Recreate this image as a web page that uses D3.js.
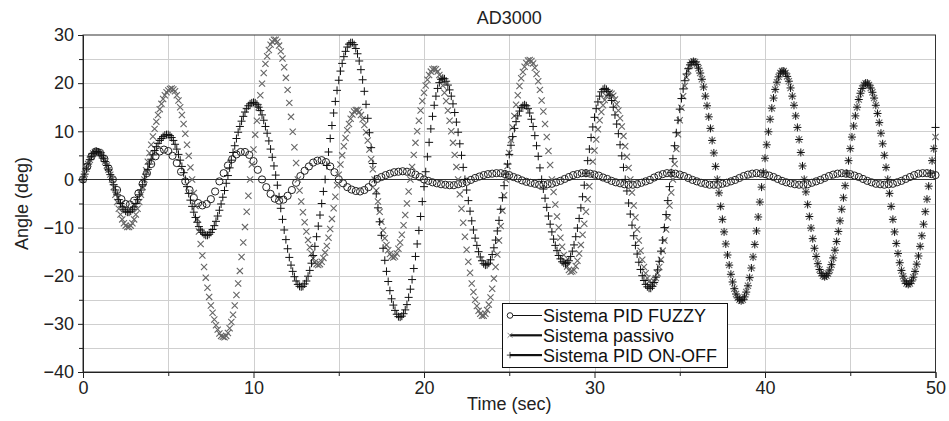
<!DOCTYPE html>
<html>
<head>
<meta charset="utf-8">
<script src="https://cdn.jsdelivr.net/npm/d3@7"></script>
<style>
  body { margin: 0; background: #fff; }
  svg { display: block; font-family: "Liberation Sans", Arial, sans-serif; }
</style>
</head>
<body>
<svg id="chart"></svg>
<script>
const title = "AD3000";
const xLabel = "Time (sec)";
const yLabel = "Angle (deg)";
const xTicks = [0, 10, 20, 30, 40, 50];
const yTicks = [-40, -30, -20, -10, 0, 10, 20, 30];
const seriesNames = ["Sistema PID FUZZY", "Sistema passivo", "Sistema PID ON-OFF"];

// sampling step (sec) of each recorded series
const fuzzyStep = 0.25;
const passiveStep = 0.1;
const onoffStep = 0.1;

// Sistema PID FUZZY, one row per second
const fuzzy = [
  0, 2.7, 4.8, 5.8,
  5.5, 4.3, 2.3, 0,
  -2.2, -4.1, -5.1, -5.2,
  -4.4, -2.9, -0.9, 1.3,
  3.2, 4.8, 5.8, 6.2,
  5.9, 4.9, 3.4, 1.6,
  -0.4, -2.2, -3.8, -4.9,
  -5.4, -5.1, -4.1, -2.5,
  -0.4, 1.3, 2.9, 4.2,
  5.2, 5.7, 5.7, 5.1,
  3.8, 2.0, 0, -1.6,
  -3.0, -4.0, -4.4, -4.2,
  -3.4, -2.2, -0.7, 0.7,
  1.8, 2.7, 3.5, 3.9,
  4.0, 3.6, 2.7, 1.5,
  0, -0.8, -1.6, -2.1,
  -2.4, -2.5, -2.2, -1.6,
  -0.7, 0.1, 0.5, 0.9,
  1.2, 1.5, 1.6, 1.7,
  1.6, 1.4, 1.0, 0.5,
  0, -0.3, -0.6, -0.8,
  -1.0, -1.1, -1.2, -1.2,
  -1.0, -0.8, -0.5, -0.1,
  0.3, 0.6, 0.9, 1.1,
  1.2, 1.3, 1.3, 1.1,
  0.9, 0.5, 0.2, -0.2,
  -0.5, -0.7, -0.9, -1.1,
  -1.1, -1.0, -0.9, -0.6,
  -0.3, 0.1, 0.5, 0.9,
  1.1, 1.3, 1.3, 1.2,
  1.0, 0.8, 0.4, 0.1,
  -0.3, -0.6, -0.8, -1.0,
  -1.1, -1.1, -1.0, -0.7,
  -0.4, -0.1, 0.4, 0.8,
  1.1, 1.3, 1.3, 1.2,
  1.0, 0.7, 0.3, -0.1,
  -0.4, -0.7, -0.9, -1.1,
  -1.1, -1.1, -0.9, -0.7,
  -0.4, -0.1, 0.3, 0.7,
  1.0, 1.2, 1.3, 1.2,
  1.1, 0.8, 0.5, 0.1,
  -0.3, -0.6, -0.8, -1.0,
  -1.1, -1.1, -1.0, -0.7,
  -0.4, -0.1, 0.3, 0.7,
  1.0, 1.2, 1.3, 1.2,
  1.1, 0.8, 0.5, 0.1,
  -0.3, -0.6, -0.9, -1.0,
  -1.1, -1.0, -0.9, -0.6,
  -0.3, 0.1, 0.5, 0.9,
  1.2, 1.3, 1.3, 1.1,
  0.9
];

// Sistema passivo, one row per second
const passive = [
  0, 1.1, 2.2, 3.2, 4.1, 4.8, 5.4, 5.7, 5.8, 5.7,
  5.5, 5.0, 4.4, 3.7, 2.9, 2.0, 1.0, 0, -1.6, -3.2,
  -4.7, -6.1, -7.3, -8.3, -9.1, -9.6, -9.9, -9.9, -9.6, -9.1,
  -8.3, -7.3, -6.1, -4.7, -3.2, -1.6, 0, 1.9, 3.7, 5.5,
  7.2, 8.9, 10.5, 12.0, 13.4, 14.6, 15.7, 16.7, 17.5, 18.1,
  18.5, 18.8, 18.9, 18.7, 18.3, 17.5, 16.4, 15.0, 13.4, 11.5,
  9.5, 7.2, 4.9, 2.5, 0, -2.8, -5.5, -8.2, -10.8, -13.4,
  -15.8, -18.2, -20.4, -22.5, -24.4, -26.2, -27.7, -29.1, -30.3, -31.2,
  -32.0, -32.5, -32.7, -32.8, -32.5, -31.9, -30.9, -29.6, -28.1, -26.2,
  -24.0, -21.6, -19.0, -16.1, -13.1, -9.9, -6.7, -3.4, 0, 3.1,
  6.2, 9.3, 12.2, 15.0, 17.5, 19.9, 22.1, 24.0, 25.6, 26.9,
  28.0, 28.6, 29.0, 29.0, 28.6, 27.8, 26.6, 25.1, 23.3, 21.1,
  18.6, 15.9, 13.0, 9.9, 6.7, 3.4, 0, -2.3, -4.6, -6.8,
  -8.9, -10.8, -12.6, -14.1, -15.4, -16.4, -17.2, -17.6, -17.8, -17.6,
  -17.1, -16.3, -15.2, -13.8, -12.1, -10.3, -8.2, -6.0, -3.6, -1.2,
  1.0, 3.1, 5.0, 6.9, 8.6, 10.2, 11.5, 12.6, 13.5, 14.1,
  14.4, 14.4, 14.0, 13.4, 12.5, 11.3, 9.8, 8.1, 6.2, 4.2,
  2.1, 0, -2.3, -4.6, -6.7, -8.8, -10.6, -12.2, -13.6, -14.7,
  -15.5, -16.0, -16.2, -16.0, -15.4, -14.4, -13.1, -11.5, -9.5, -7.4,
  -5.0, -2.5, 0, 2.6, 5.1, 7.6, 10.0, 12.2, 14.3, 16.3,
  18.0, 19.5, 20.7, 21.7, 22.4, 22.9, 23.0, 22.9, 22.4, 21.7,
  20.7, 19.5, 18.0, 16.3, 14.3, 12.2, 10.0, 7.6, 5.1, 2.6,
  0, -3.1, -6.1, -9.0, -11.9, -14.6, -17.1, -19.4, -21.6, -23.4,
  -25.0, -26.3, -27.3, -27.9, -28.3, -28.3, -27.9, -27.1, -26.0, -24.5,
  -22.7, -20.6, -18.2, -15.6, -12.7, -9.7, -6.5, -3.3, 0, 2.8,
  5.5, 8.2, 10.8, 13.2, 15.5, 17.5, 19.4, 21.0, 22.3, 23.4,
  24.2, 24.7, 24.8, 24.6, 24.1, 23.2, 21.9, 20.4, 18.6, 16.4,
  14.1, 11.5, 8.8, 5.9, 3.0, 0, -2.6, -5.2, -7.7, -10.0,
  -12.1, -14.0, -15.7, -17.0, -18.1, -18.8, -19.2, -19.1, -18.8, -18.0,
  -16.9, -15.4, -13.6, -11.5, -9.2, -6.7, -4.1, -1.4, 1.2, 3.7,
  6.0, 8.3, 10.4, 12.3, 14.0, 15.4, 16.5, 17.3, 17.8, 18.0,
  17.8, 17.4, 16.6, 15.6, 14.3, 12.7, 11.0, 9.0, 6.9, 4.7,
  2.4, 0, -2.7, -5.4, -7.9, -10.4, -12.7, -14.8, -16.7, -18.2,
  -19.5, -20.5, -21.2, -21.6, -21.6, -21.2, -20.5, -19.5, -18.2, -16.7,
  -14.8, -12.7, -10.4, -7.9, -5.4, -2.7, 0, 3.2, 6.3, 9.4,
  12.3, 14.9, 17.3, 19.4, 21.2, 22.6, 23.7, 24.3, 24.5, 24.4,
  23.9, 23.1, 22.1, 20.8, 19.2, 17.3, 15.3, 13.0, 10.6, 8.1,
  5.5, 2.7, 0, -2.8, -5.6, -8.3, -10.9, -13.4, -15.7, -17.8,
  -19.7, -21.3, -22.7, -23.8, -24.6, -25.0, -25.2, -25.0, -24.4, -23.4,
  -22.1, -20.4, -18.4, -16.1, -13.5, -10.7, -7.8, -4.7, -1.6, 1.5,
  4.4, 7.2, 9.9, 12.5, 14.8, 16.9, 18.7, 20.2, 21.3, 22.1,
  22.5, 22.5, 22.1, 21.4, 20.4, 19.0, 17.3, 15.4, 13.2, 10.8,
  8.3, 5.6, 2.8, 0, -2.6, -5.2, -7.7, -10.1, -12.3, -14.3,
  -16.0, -17.5, -18.7, -19.5, -20.0, -20.2, -20.0, -19.6, -18.8, -17.7,
  -16.3, -14.7, -12.9, -10.8, -8.6, -6.2, -3.8, -1.3, 1.3, 3.9,
  6.4, 8.8, 11.1, 13.2, 15.0, 16.6, 17.9, 18.9, 19.6, 20.0,
  20.0, 19.6, 19.0, 18.1, 16.9, 15.4, 13.7, 11.8, 9.6, 7.4,
  5.0, 2.5, 0, -2.9, -5.6, -8.3, -10.9, -13.3, -15.4, -17.3,
  -18.9, -20.1, -21.1, -21.6, -21.8, -21.6, -21.1, -20.3, -19.1, -17.6,
  -15.9, -13.9, -11.7, -9.3, -6.7, -4.1, -1.4, 1.3, 3.9, 6.4,
  8.8
];

// Sistema PID ON-OFF, one row per second
const onoff = [
  0, 1.1, 2.2, 3.2, 4.1, 4.8, 5.4, 5.7, 5.8, 5.7,
  5.5, 5.0, 4.4, 3.7, 2.9, 2.0, 1.0, 0, -1.1, -2.2,
  -3.2, -4.2, -5.0, -5.7, -6.2, -6.6, -6.8, -6.8, -6.6, -6.2,
  -5.7, -5.0, -4.2, -3.2, -2.2, -1.1, 0, 1.1, 2.1, 3.2,
  4.2, 5.1, 6.0, 6.8, 7.5, 8.1, 8.5, 8.9, 9.2, 9.3,
  9.3, 9.1, 8.7, 8.1, 7.3, 6.3, 5.2, 4.0, 2.7, 1.4,
  0, -1.5, -2.9, -4.3, -5.6, -6.8, -7.9, -8.9, -9.8, -10.5,
  -11.0, -11.4, -11.6, -11.6, -11.4, -11.0, -10.4, -9.6, -8.7, -7.6,
  -6.4, -5.1, -3.7, -2.3, -0.8, 0.8, 2.4, 4.0, 5.6, 7.0,
  8.5, 9.8, 11.0, 12.1, 13.1, 14.0, 14.7, 15.3, 15.7, 15.9,
  16.0, 15.9, 15.6, 15.0, 14.3, 13.4, 12.3, 11.0, 9.6, 8.0,
  6.3, 4.6, 2.8, 0.9, -1.2, -3.6, -6.0, -8.3, -10.5, -12.5,
  -14.4, -16.2, -17.8, -19.1, -20.2, -21.1, -21.8, -22.2, -22.3, -22.2,
  -21.7, -21.1, -20.1, -18.9, -17.4, -15.8, -13.9, -11.9, -9.7, -7.4,
  -5.0, -2.5, 0, 2.9, 5.7, 8.5, 11.2, 13.8, 16.2, 18.5,
  20.6, 22.5, 24.1, 25.5, 26.6, 27.5, 28.1, 28.4, 28.4, 28.0,
  27.2, 26.1, 24.6, 22.8, 20.7, 18.3, 15.6, 12.7, 9.7, 6.6,
  3.3, 0, -3.0, -5.9, -8.8, -11.6, -14.3, -16.8, -19.1, -21.2,
  -23.1, -24.8, -26.1, -27.2, -28.0, -28.5, -28.6, -28.4, -27.9, -27.1,
  -26.0, -24.5, -22.8, -20.8, -18.5, -16.0, -13.4, -10.6, -7.7, -4.6,
  -1.5, 1.6, 4.7, 7.7, 10.5, 13.1, 15.4, 17.3, 18.9, 20.1,
  20.8, 21.0, 20.9, 20.4, 19.6, 18.6, 17.3, 15.7, 13.9, 11.9,
  9.8, 7.4, 5.0, 2.5, 0, -2.2, -4.4, -6.6, -8.6, -10.5,
  -12.2, -13.7, -15.0, -16.1, -16.9, -17.5, -17.8, -17.7, -17.4, -16.7,
  -15.6, -14.2, -12.6, -10.7, -8.5, -6.2, -3.8, -1.3, 1.1, 3.2,
  5.2, 7.1, 8.9, 10.6, 12.0, 13.2, 14.2, 14.9, 15.3, 15.5,
  15.3, 14.7, 13.8, 12.5, 11.0, 9.1, 7.0, 4.8, 2.4, 0,
  -2.0, -3.9, -5.8, -7.6, -9.3, -10.9, -12.4, -13.7, -14.8, -15.8,
  -16.5, -17.1, -17.4, -17.5, -17.3, -16.9, -16.0, -14.9, -13.6, -11.9,
  -10.1, -8.1, -5.9, -3.6, -1.2, 1.3, 3.9, 6.3, 8.7, 10.9,
  12.9, 14.7, 16.1, 17.3, 18.2, 18.7, 18.9, 18.7, 18.3, 17.5,
  16.4, 15.0, 13.4, 11.5, 9.5, 7.2, 4.9, 2.5, 0, -2.4,
  -4.9, -7.2, -9.5, -11.7, -13.7, -15.5, -17.2, -18.7, -20.0, -21.0,
  -21.8, -22.3, -22.6, -22.6, -22.2, -21.4, -20.3, -18.8, -17.0, -14.9,
  -12.6, -10.0, -7.3, -4.4, -1.5, 1.4, 4.3, 7.0, 9.7, 12.3,
  14.6, 16.8, 18.8, 20.5, 21.9, 23.0, 23.8, 24.3, 24.5, 24.4,
  23.9, 23.1, 22.1, 20.8, 19.2, 17.3, 15.3, 13.0, 10.6, 8.1,
  5.5, 2.7, 0, -2.8, -5.6, -8.3, -10.9, -13.4, -15.7, -17.8,
  -19.7, -21.3, -22.7, -23.8, -24.6, -25.0, -25.2, -25.0, -24.4, -23.4,
  -22.1, -20.4, -18.4, -16.1, -13.5, -10.7, -7.8, -4.7, -1.6, 1.5,
  4.4, 7.2, 9.9, 12.5, 14.8, 16.9, 18.7, 20.2, 21.3, 22.1,
  22.5, 22.5, 22.1, 21.4, 20.4, 19.0, 17.3, 15.4, 13.2, 10.8,
  8.3, 5.6, 2.8, 0, -2.6, -5.2, -7.7, -10.1, -12.3, -14.3,
  -16.0, -17.5, -18.7, -19.5, -20.0, -20.2, -20.0, -19.6, -18.8, -17.7,
  -16.3, -14.7, -12.9, -10.8, -8.6, -6.2, -3.8, -1.3, 1.3, 3.9,
  6.4, 8.8, 11.1, 13.2, 15.0, 16.6, 17.9, 18.9, 19.6, 20.0,
  20.0, 19.6, 19.0, 18.1, 16.9, 15.4, 13.7, 11.8, 9.6, 7.4,
  5.0, 2.5, 0, -2.9, -5.6, -8.3, -10.9, -13.3, -15.4, -17.3,
  -18.9, -20.1, -21.1, -21.6, -21.8, -21.6, -21.1, -20.3, -19.1, -17.6,
  -15.9, -13.9, -11.7, -9.3, -6.7, -4.1, -1.4, 1.3, 3.9, 6.4,
  10.8
];

const width = 949;
const height = 421;
const margin = { top: 35, right: 13.5, bottom: 49, left: 83 };
const innerW = width - margin.left - margin.right;
const innerH = height - margin.top - margin.bottom;

const svg = d3.select("#chart").attr("width", width).attr("height", height);
const g = svg.append("g").attr("transform", `translate(${margin.left},${margin.top})`);

const x = d3.scaleLinear().domain([0, 50]).range([0, innerW]);
const y = d3.scaleLinear().domain([-40, 30]).range([innerH, 0]);

// grid every 5 units
g.append("g")
  .selectAll("line")
  .data(d3.range(5, 50, 5))
  .join("line")
  .attr("x1", (d) => Math.round(x(d)) + 0.5)
  .attr("x2", (d) => Math.round(x(d)) + 0.5)
  .attr("y1", 0)
  .attr("y2", innerH)
  .attr("stroke", "#cfcfcf");

g.append("g")
  .selectAll("line")
  .data(d3.range(-35, 30, 5))
  .join("line")
  .attr("x1", 0)
  .attr("x2", innerW)
  .attr("y1", (d) => Math.round(y(d)) + 0.5)
  .attr("y2", (d) => Math.round(y(d)) + 0.5)
  .attr("stroke", (d) => (d === 0 ? "#333" : "#cfcfcf"));

// frame
g.append("rect")
  .attr("width", innerW)
  .attr("height", innerH)
  .attr("fill", "none")
  .attr("stroke", "#333");

// axes
const fmt = d3.format("d");

function styleAxis(sel) {
  sel.select(".domain").attr("stroke", "#222");
  sel.selectAll(".tick line").attr("stroke", "#222");
  sel.selectAll(".tick text").attr("font-size", 18).attr("fill", "#222")
    .attr("font-family", '"Liberation Sans", Arial, sans-serif');
}

g.append("g")
  .attr("transform", `translate(0,${innerH})`)
  .call(d3.axisBottom(x).tickValues(xTicks).tickSize(6).tickPadding(3).tickFormat(fmt))
  .call(styleAxis);

g.append("g")
  .attr("transform", `translate(0,${innerH})`)
  .call(d3.axisBottom(x).tickValues(d3.range(5, 50, 10)).tickSize(4).tickFormat(""))
  .call(styleAxis)
  .select(".domain").remove();

g.append("g")
  .call(d3.axisLeft(y).tickValues(yTicks).tickSize(5).tickPadding(4).tickFormat(fmt))
  .call(styleAxis);

g.append("g")
  .call(d3.axisLeft(y).tickValues(d3.range(-35, 30, 10)).tickSize(4).tickFormat(""))
  .call(styleAxis)
  .select(".domain").remove();

// titles
svg.append("text")
  .attr("x", margin.left + innerW / 2)
  .attr("y", 24)
  .attr("text-anchor", "middle")
  .attr("font-size", 18)
  .attr("fill", "#222")
  .text(title);

svg.append("text")
  .attr("x", margin.left + innerW / 2)
  .attr("y", 410)
  .attr("text-anchor", "middle")
  .attr("font-size", 18)
  .attr("fill", "#222")
  .text(xLabel);

svg.append("text")
  .attr("transform", `translate(28,${margin.top + innerH / 2}) rotate(-90)`)
  .attr("text-anchor", "middle")
  .attr("font-size", 18)
  .attr("fill", "#222")
  .text(yLabel);

// markers
const toPoints = (values, step) => values.map((v, i) => ({ t: i * step, v }));
const crossPath = "M-3.1,-3.1L3.1,3.1M-3.1,3.1L3.1,-3.1";
const plusPath = "M-4,0H4M0,-4V4";

g.append("g")
  .selectAll("circle")
  .data(toPoints(fuzzy, fuzzyStep))
  .join("circle")
  .attr("cx", (d) => x(d.t))
  .attr("cy", (d) => y(d.v))
  .attr("r", 3.6)
  .attr("fill", "none")
  .attr("stroke", "#222");

g.append("g")
  .selectAll("path")
  .data(toPoints(passive, passiveStep))
  .join("path")
  .attr("transform", (d) => `translate(${x(d.t)},${y(d.v)})`)
  .attr("d", crossPath)
  .attr("fill", "none")
  .attr("stroke", "#666")
  .attr("stroke-width", 1.1);

g.append("g")
  .selectAll("path")
  .data(toPoints(onoff, onoffStep))
  .join("path")
  .attr("transform", (d) => `translate(${x(d.t)},${y(d.v)})`)
  .attr("d", plusPath)
  .attr("fill", "none")
  .attr("stroke", "#111");

// legend
const legendItems = [
  { name: seriesNames[0], width: 1, marker: "circle", color: "#222" },
  { name: seriesNames[1], width: 2.2, marker: crossPath, color: "#666" },
  { name: seriesNames[2], width: 2.2, marker: plusPath, color: "#111" },
];

const legend = svg.append("g").attr("transform", "translate(502,303)");

legend.append("rect")
  .attr("x", 0.5)
  .attr("y", 0.5)
  .attr("width", 225)
  .attr("height", 64)
  .attr("fill", "#fff")
  .attr("stroke", "#111");

const rows = legend.selectAll(".legend")
  .data(legendItems)
  .join("g")
  .attr("class", "legend")
  .attr("transform", (d, i) => `translate(0,${12.5 + i * 19.8})`);

rows.append("line")
  .attr("x1", 8)
  .attr("x2", 40)
  .attr("stroke", "#111")
  .attr("stroke-width", (d) => d.width);

rows.each(function (d) {
  const row = d3.select(this);
  if (d.marker === "circle") {
    row.append("circle").attr("cx", 8).attr("r", 2.8).attr("fill", "#fff").attr("stroke", d.color);
  } else {
    row.append("path").attr("transform", "translate(8,0) scale(0.8)").attr("d", d.marker)
      .attr("fill", "none").attr("stroke", d.color);
  }
});

rows.append("text")
  .attr("x", 41)
  .attr("y", 6.5)
  .attr("font-size", 18)
  .attr("fill", "#111")
  .text((d) => d.name);
</script>
</body>
</html>
